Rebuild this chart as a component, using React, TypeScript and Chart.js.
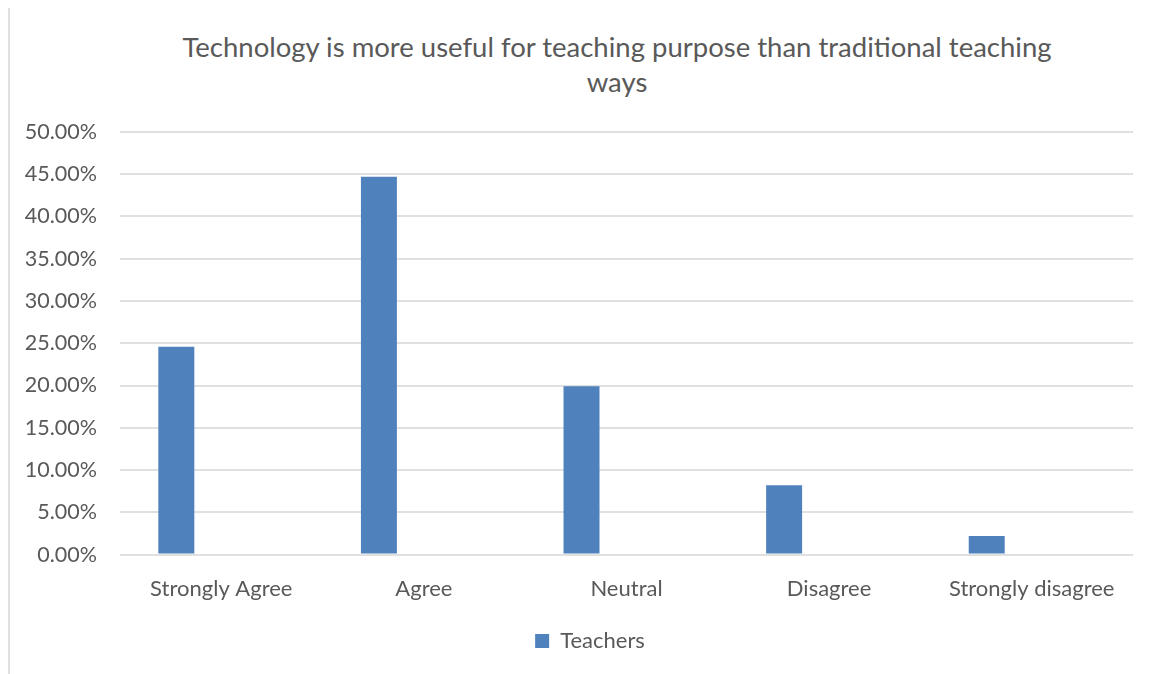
import React, { useEffect, useRef } from 'react';
import { Chart, registerables } from 'chart.js';

Chart.register(...registerables);

const titleLines = ['Technology is more useful for teaching purpose than traditional teaching', 'ways'];
const categories = ['Strongly Agree', 'Agree', 'Neutral', 'Disagree', 'Strongly disagree'];
const seriesName = 'Teachers';
const teachers = [24.6, 44.7, 19.9, 8.2, 2.2];
const emptySeries: (number | null)[] = [null, null, null, null, null];
const yMin = 0;
const yMax = 50;
const yStep = 5;

const FONT = 'Lato, "Liberation Sans", sans-serif';
const TEXT = '#595959';
const GRID = '#e0e0e0';
const BAR = '#4f81bd';

export default function App() {
  const ref = useRef<HTMLCanvasElement | null>(null);

  useEffect(() => {
    if (!ref.current) return;
    const chart = new Chart(ref.current, {
      type: 'bar',
      data: {
        labels: categories,
        datasets: [
          {
            label: seriesName,
            data: teachers,
            backgroundColor: BAR,
            borderWidth: 0,
            categoryPercentage: 0.888,
            barPercentage: 0.4,
          },
          {
            label: '',
            data: emptySeries,
            backgroundColor: 'transparent',
            categoryPercentage: 0.888,
            barPercentage: 0.4,
          },
        ],
      },
      options: {
        responsive: false,
        animation: false,
        devicePixelRatio: 1,
        layout: { padding: { left: 8, right: 19, top: 22, bottom: 12 } },
        plugins: {
          title: { display: false },
          tooltip: { enabled: false },
          legend: {
            display: true,
            position: 'bottom',
            labels: {
              filter: (item) => item.text !== '',
              boxWidth: 14,
              boxHeight: 14,
              padding: 7,
              color: TEXT,
              font: { family: FONT, size: 22 },
            },
          },
        },
        scales: {
          x: {
            grid: { display: false, drawTicks: false },
            border: { display: false },
            ticks: {
              color: TEXT,
              font: { family: FONT, size: 22 },
              padding: 21,
              maxRotation: 0,
              autoSkip: false,
            },
          },
          y: {
            min: yMin,
            max: yMax,
            afterFit: (scale) => {
              scale.width = 104;
            },
            grid: { color: GRID, lineWidth: 2, drawTicks: false },
            border: { display: false },
            ticks: {
              stepSize: yStep,
              color: TEXT,
              font: { family: FONT, size: 21.5 },
              padding: 23,
              callback: (v) => Number(v).toFixed(2) + '%',
            },
          },
          yRight: {
            type: 'linear',
            position: 'right',
            display: true,
            afterFit: (scale) => {
              scale.width = 31;
            },
            grid: { display: false, drawTicks: false },
            border: { display: false },
            ticks: { display: false },
          },
        },
      },
    });
    return () => chart.destroy();
  }, []);

  return (
    <div style={{ position: 'relative', width: 1143, height: 666 }}>
      <div
        style={{
          position: 'absolute',
          left: 0,
          top: -2,
          width: 1141,
          height: 666,
          borderLeft: `2px solid ${GRID}`,
          borderTop: `2px solid ${GRID}`,
        }}
      />
      <div
        style={{
          position: 'absolute',
          left: 75,
          top: 21,
          width: 1068,
          textAlign: 'center',
          whiteSpace: 'nowrap',
          fontFamily: FONT,
          fontSize: 27.5,
          lineHeight: '35px',
          color: TEXT,
        }}
      >
        {titleLines.map((l, i) => (
          <div key={i}>{l}</div>
        ))}
      </div>
      <div
        style={{
          position: 'absolute',
          left: 0,
          top: 88,
          width: 1143,
          height: 578,
          overflow: 'hidden',
        }}
      >
        <canvas
          ref={ref}
          width={1175}
          height={578}
          style={{ display: 'block', width: 1175, height: 578 }}
        />
      </div>
    </div>
  );
}
